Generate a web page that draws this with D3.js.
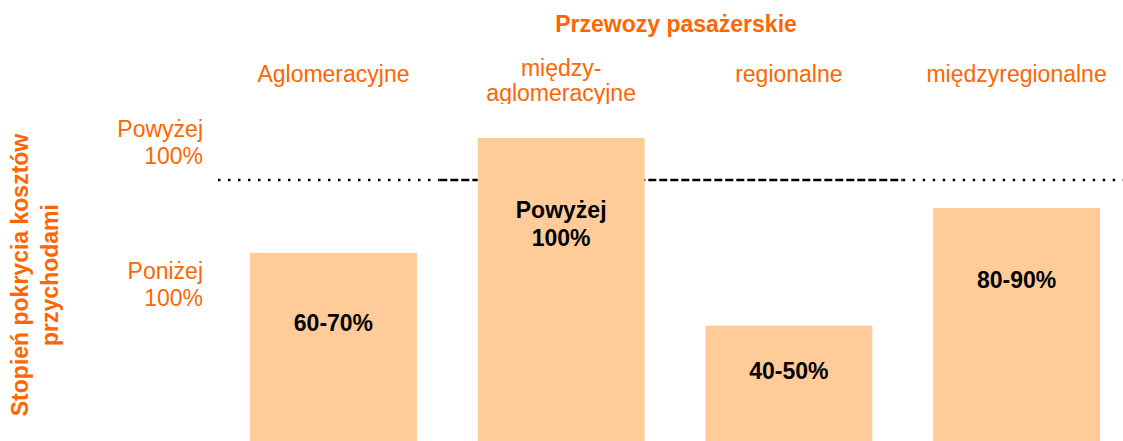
<!DOCTYPE html>
<html>
<head>
<meta charset="utf-8">
<script src="https://cdn.jsdelivr.net/npm/d3@7"></script>
<style>
  body { margin: 0; background: #fff; }
  svg { display: block; font-family: "Liberation Sans", Arial, sans-serif; }
</style>
</head>
<body>
<svg id="chart"></svg>
<script>
// data (schematic bar heights, 100 = full cost coverage)
const title = "Przewozy pasażerskie";
const categories = ["Aglomeracyjne", "między-\naglomeracyjne", "regionalne", "międzyregionalne"];
const values = [74, 115, 48, 90];
const valueLabels = ["60-70%", "Powyżej\n100%", "40-50%", "80-90%"];
const levelLabels = ["Powyżej\n100%", "Poniżej\n100%"];
const levelValues = [113, 62];
const threshold = 100;
const axisTitle = ["Stopień pokrycia kosztów", "przychodami"];

const orange = "#ff6600";
const barFill = "#ffcc99";

let width = 1123, height = 441;
const svg = d3.select("#chart")
    .attr("width", width)
    .attr("height", height);

// scales
const x = d3.scaleBand()
    .domain(categories)
    .range([219.6, 1130.4])
    .paddingInner(0.267)
    .paddingOuter(0.1335);

// baseline sits below the visible area, bars run off the bottom
const y = d3.scaleLinear()
    .domain([0, 100])
    .range([460, 180]);

// title
svg.append("text")
    .attr("x", 676)
    .attr("y", 32)
    .attr("text-anchor", "middle")
    .attr("fill", orange)
    .attr("font-weight", "bold")
    .attr("font-size", 23)
    .text(title);

// category labels (clipped like in the source)
svg.append("clipPath").attr("id", "catClip")
    .append("rect").attr("x", 0).attr("y", 0).attr("width", width).attr("height", 104);

const catG = svg.append("g").attr("clip-path", "url(#catClip)");
catG.selectAll("text.cat")
    .data(categories)
    .enter()
    .append("text")
    .attr("class", "cat")
    .attr("text-anchor", "middle")
    .attr("fill", orange)
    .attr("font-size", 23)
    .attr("transform", d => "translate(" + (x(d) + x.bandwidth() / 2) + ",0)")
    .each(function (d) {
        const lines = d.split("\n");
        const y0 = lines.length > 1 ? 76 : 82;
        lines.forEach((l, i) => {
            d3.select(this).append("tspan")
                .attr("x", 0)
                .attr("y", y0 + i * 25)
                .text(l);
        });
    });

// left level labels
svg.selectAll("text.level")
    .data(levelLabels)
    .enter()
    .append("text")
    .attr("class", "level")
    .attr("text-anchor", "end")
    .attr("fill", orange)
    .attr("font-size", 23)
    .each(function (d, i) {
        const lines = d.split("\n");
        const cy = y(levelValues[i]);
        lines.forEach((l, j) => {
            d3.select(this).append("tspan")
                .attr("x", 203)
                .attr("y", cy - 7 + j * 27)
                .text(l);
        });
    });

// rotated axis title
axisTitle.forEach((t, i) => {
    svg.append("text")
        .attr("transform", "translate(" + (28 + i * 30) + ",275) rotate(-90)")
        .attr("text-anchor", "middle")
        .attr("fill", orange)
        .attr("font-weight", "bold")
        .attr("font-size", 23)
        .text(t);
});

// 100% threshold line: dotted, with a dashed stretch between the bars
const ty = y(threshold);
const dashStart = (x(categories[0]) + x.bandwidth() + x(categories[1])) / 2 - 8;
const dashEnd = (x(categories[2]) + x.bandwidth() + x(categories[3])) / 2;

const dotted = [[218, dashStart], [dashEnd, width]];
svg.selectAll("line.dotted")
    .data(dotted)
    .enter()
    .append("line")
    .attr("class", "dotted")
    .attr("x1", d => d[0])
    .attr("x2", d => d[1])
    .attr("y1", ty)
    .attr("y2", ty)
    .attr("stroke", "#000")
    .attr("stroke-width", 2.5)
    .attr("stroke-dasharray", "2.5,7.5");

svg.append("line")
    .attr("x1", dashStart)
    .attr("x2", dashEnd)
    .attr("y1", ty)
    .attr("y2", ty)
    .attr("stroke", "#000")
    .attr("stroke-width", 2.5)
    .attr("stroke-dasharray", "8,3");

// bars
svg.selectAll("rect.bar")
    .data(values)
    .enter()
    .append("rect")
    .attr("class", "bar")
    .attr("x", (d, i) => x(categories[i]))
    .attr("y", d => y(d))
    .attr("width", x.bandwidth())
    .attr("height", d => y(0) - y(d))
    .attr("fill", barFill);

// value labels inside bars
svg.selectAll("text.val")
    .data(valueLabels)
    .enter()
    .append("text")
    .attr("class", "val")
    .attr("text-anchor", "middle")
    .attr("font-weight", "bold")
    .attr("font-size", 23)
    .attr("fill", "#000")
    .each(function (d, i) {
        const top = y(values[i]);
        const barH = y(0) - top;
        const c = top + Math.min(72, 0.34 * barH);
        const cx = x(categories[i]) + x.bandwidth() / 2;
        d.split("\n").forEach((l, j) => {
            d3.select(this).append("tspan")
                .attr("x", cx)
                .attr("y", c + 8 + j * 28)
                .text(l);
        });
    });
</script>
</body>
</html>
